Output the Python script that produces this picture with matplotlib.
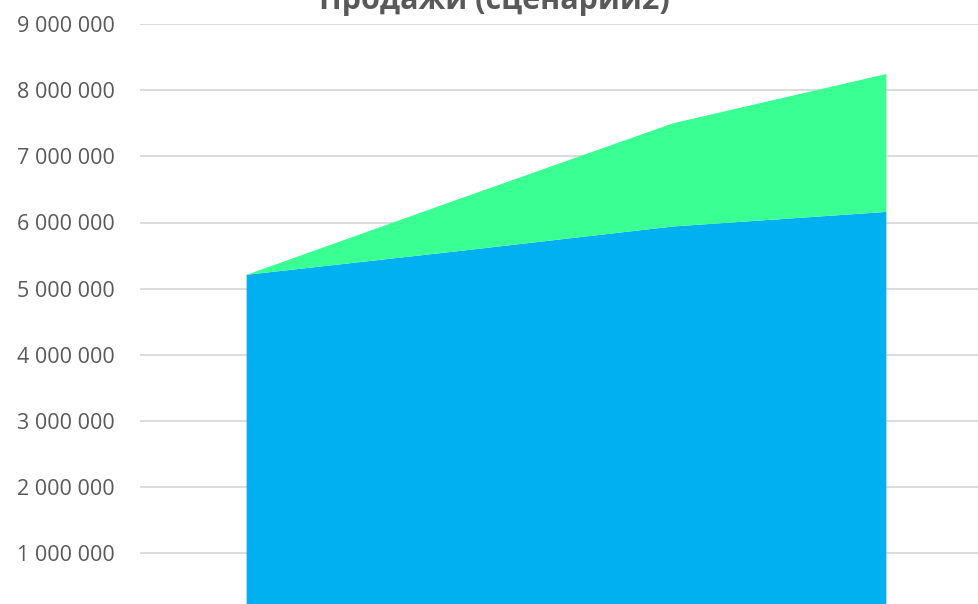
import matplotlib
matplotlib.use("Agg")
import matplotlib.pyplot as plt
from matplotlib.ticker import FuncFormatter

plt.rcParams['font.family'] = ['Open Sans', 'DejaVu Sans']

# data (4 periods, stacked area)
periods = ['1', '2', '3', '4']
base = [5210000, 5570000, 5940000, 6160000]
extra = [0, 790000, 1560000, 2085000]

title = 'Продажи (сценарий2)'
yticks = [1000000, 2000000, 3000000, 4000000, 5000000,
          6000000, 7000000, 8000000, 9000000]

fig = plt.figure(figsize=(9.79, 6.04), dpi=100)
# plot area runs past the right and bottom edges, like the cropped original
ax = fig.add_axes([140/979, -15.5/604, 853/979, 595.5/604])

x = list(range(len(periods)))
ax.stackplot(x, base, extra, colors=['#00B0F0', '#3AFF92'], linewidth=0, zorder=2)

ax.set_xlim(-0.5, len(periods) - 0.5)
ax.set_ylim(0, 9000000)
ax.set_yticks(yticks)
ax.yaxis.set_major_formatter(FuncFormatter(lambda v, p: f'{int(v):,}'.replace(',', ' ')))
ax.set_xticks([])
ax.grid(axis='y', color='#D9D9D9', linewidth=1.3, zorder=0)
ax.set_axisbelow(True)
for s in ax.spines.values():
    s.set_visible(False)
ax.tick_params(axis='y', length=0, pad=18, labelsize=15.5, labelcolor='#595959')

# title is cut by the top edge in the original too
fig.text(494/979, 1 - 9/604, title, ha='center', va='baseline',
         fontsize=22, fontweight='bold', color='#595959')

fig.savefig('out.png', dpi=100)
